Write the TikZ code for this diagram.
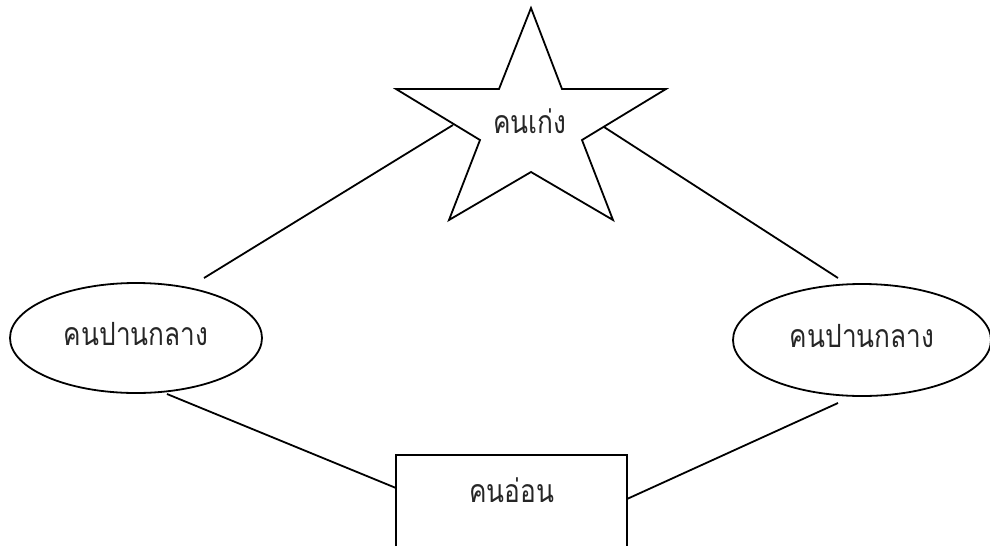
\documentclass[tikz,border=0pt]{standalone}
\usepackage{fontspec}
\usetikzlibrary{shapes.geometric}
\newfontfamily\thaifont[Script=Thai,FakeStretch=0.82]{Loma}
\begin{document}
\begin{tikzpicture}[x=1pt,y=-1pt,
  outline/.style={draw=black, line width=1.8pt, line join=miter},
  lbl/.style={font=\thaifont\fontsize{32}{36}\selectfont, text=black!85, inner sep=0pt},
  oval/.style={ellipse, outline, lbl, text height=24pt, text depth=10pt},
  wbox/.style={rectangle, lbl, minimum width=231pt, minimum height=91pt, text height=25pt, text depth=22pt},
  conn/.style={draw=black, line width=1.8pt}]
\useasboundingbox (0,0) rectangle (990,546);
% star
\draw[outline] (531,8) -- (499,89) -- (396,89) -- (480,140) -- (449,220) -- (531,172)
  -- (613,220) -- (582,140) -- (666,89) -- (562,89) -- cycle;
\node[lbl, anchor=base] (strong) at (530,133) {คนเก่ง};
% ellipses
\node[oval, minimum width=252pt, minimum height=110pt] (midL) at (136,338) {คนปานกลาง};
\node[oval, minimum width=258pt, minimum height=112pt] (midR) at (862,340) {คนปานกลาง};
% open box
\node[wbox] (weak) at (511.5,500.5) {คนอ่อน};
\draw[outline] (weak.south west) |- (weak.north east) -- (weak.south east);
% connector ends
\coordinate (sL) at (453,125);
\coordinate (sR) at (604,127);
\coordinate (eL) at (204,278);
\coordinate (eR) at (838,278);
\coordinate (lb) at (167,394);
\coordinate (rb) at (838,403);
\coordinate (wl) at (396,488);
\coordinate (wr) at (627,499);
\draw[conn] (sL) -- (eL);
\draw[conn] (sR) -- (eR);
\draw[conn] (lb) -- (wl);
\draw[conn] (rb) -- (wr);
\end{tikzpicture}
\end{document}
